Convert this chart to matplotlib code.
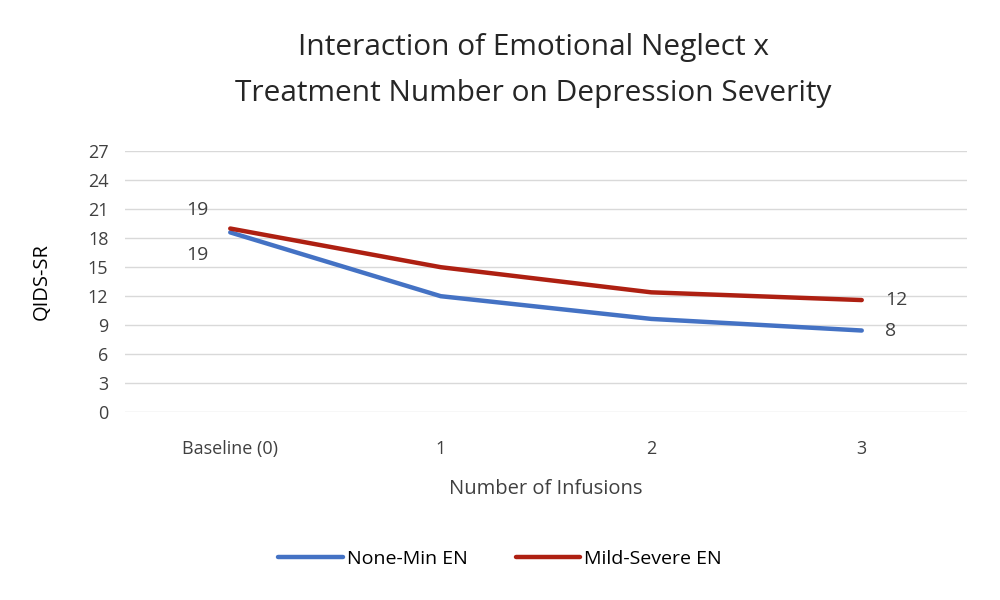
import matplotlib.pyplot as plt

plt.rcParams["font.family"] = ["Open Sans", "DejaVu Sans"]

categories = ["Baseline (0)", "1", "2", "3"]
none_min_en = [18.6, 12.0, 9.65, 8.45]
mild_severe_en = [19.0, 15.0, 12.4, 11.6]
y_ticks = list(range(0, 28, 3))

blue = "#4472C4"
red = "#AE2012"

fig = plt.figure(figsize=(10, 6), dpi=100)
ax = fig.add_axes([0.125, 0.313, 0.842, 0.435])

x = list(range(len(categories)))
ax.plot(x, none_min_en, color=blue, lw=3.2, label="None-Min EN", solid_capstyle="round")
ax.plot(x, mild_severe_en, color=red, lw=3.2, label="Mild-Severe EN", solid_capstyle="round")

# data labels: first and last points only
lbl = dict(textcoords="offset points", fontsize=14, color="#404040")
ax.annotate(f"{mild_severe_en[0]:.0f}", (x[0], mild_severe_en[0]), xytext=(-24, 7),
            ha="center", va="bottom", **lbl)
ax.annotate(f"{none_min_en[0]:.0f}", (x[0], none_min_en[0]), xytext=(-24, -10),
            ha="center", va="top", **lbl)
ax.annotate(f"{mild_severe_en[-1]:.0f}", (x[-1], mild_severe_en[-1]), xytext=(17, 0),
            ha="left", va="center", **lbl)
ax.annotate(f"{none_min_en[-1]:.0f}", (x[-1], none_min_en[-1]), xytext=(17, 0),
            ha="left", va="center", **lbl)

ax.set_xlim(-0.5, len(categories) - 0.5)
ax.set_ylim(0, 27)
ax.set_yticks(y_ticks)
ax.set_xticks(x)
ax.set_xticklabels(categories)
ax.tick_params(axis="both", length=0, labelsize=13, colors="#404040")
ax.tick_params(axis="x", pad=20)
ax.tick_params(axis="y", pad=12)
ax.grid(axis="y", color="#d9d9d9", lw=1)
ax.set_axisbelow(True)
for spine in ax.spines.values():
    spine.set_visible(False)

ax.set_xlabel("Number of Infusions", fontsize=14.5, color="#404040", labelpad=15)
ax.set_ylabel("QIDS-SR", fontsize=14.5, color="#000000", labelpad=26)

fig.suptitle("Interaction of Emotional Neglect x\nTreatment Number on Depression Severity",
             x=0.533, y=0.945, fontsize=21.5, color="#262626", linespacing=1.75)

fig.legend(loc="center", bbox_to_anchor=(0.5, 0.068), ncol=2, frameon=False,
           fontsize=14, handlelength=3.3, columnspacing=2.5, handletextpad=0.2)

fig.savefig("out.png", dpi=100)
